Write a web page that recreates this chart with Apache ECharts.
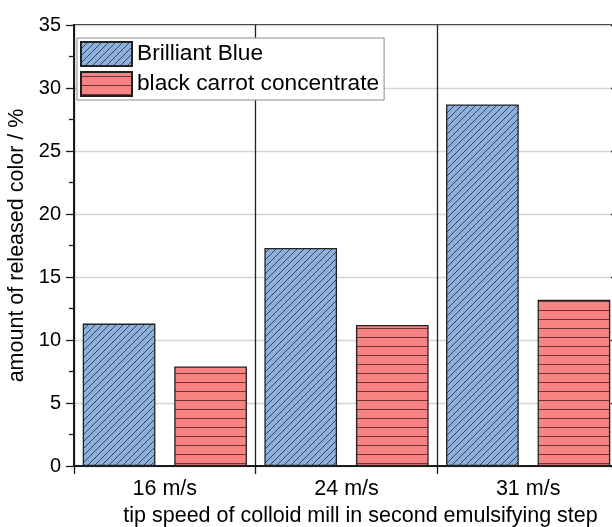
<!DOCTYPE html>
<html><head><meta charset="utf-8">
<script src="https://cdn.jsdelivr.net/npm/echarts@6/dist/echarts.min.js"></script>
<style>html,body{margin:0;padding:0;background:#fff}#c{width:612px;height:527px}</style>
</head><body><div id="c"></div>
<script>
const categories = ['16 m/s', '24 m/s', '31 m/s'];
const seriesNames = ['Brilliant Blue', 'black carrot concentrate'];
const brilliantBlue = [11.3, 17.3, 28.7];
const blackCarrot = [7.9, 11.2, 13.2];
const yMin = 0, yMax = 35, yStep = 5;
const xTitle = 'tip speed of colloid mill in second emulsifying step';
const yTitle = 'amount of released color / %';

function diagPattern(fill, line) {
  const s = 7, c = document.createElement('canvas');
  c.width = s; c.height = s;
  const g = c.getContext('2d');
  g.fillStyle = fill; g.fillRect(0, 0, s, s);
  g.strokeStyle = line; g.lineWidth = 0.9;
  g.beginPath();
  g.moveTo(0, s); g.lineTo(s, 0);
  g.moveTo(-1, 1); g.lineTo(1, -1);
  g.moveTo(s - 1, s + 1); g.lineTo(s + 1, s - 1);
  g.stroke();
  return { image: c, repeat: 'repeat' };
}
function horizPattern(fill, line) {
  const w = 8, h = 9, c = document.createElement('canvas');
  c.width = w; c.height = h;
  const g = c.getContext('2d');
  g.fillStyle = fill; g.fillRect(0, 0, w, h);
  g.fillStyle = line; g.fillRect(0, 4, w, 1);
  return { image: c, repeat: 'repeat' };
}

const FONT = '"Liberation Sans", Arial, sans-serif';
const chart = echarts.init(document.getElementById('c'), null, { renderer: 'canvas' });
chart.setOption({
  animation: false,
  backgroundColor: '#fff',
  textStyle: { fontFamily: FONT, color: '#000' },
  grid: { left: 74, top: 25, width: 545, height: 441, outerBoundsMode: 'none', containLabel: false,
          show: true, borderColor: '#1a1a1a', borderWidth: 2, backgroundColor: 'transparent' },
  legend: {
    left: 77, top: 38, orient: 'vertical', icon: 'rect',
    itemWidth: 51, itemHeight: 24, itemGap: 4,
    padding: [3, 5, 3, 3],
    borderColor: '#8a8a8a', borderWidth: 1, backgroundColor: '#fff',
    textStyle: { fontSize: 22.7, color: '#000', fontFamily: FONT },
    data: seriesNames
  },
  xAxis: {
    type: 'category', data: categories, boundaryGap: true,
    axisLine: { show: true, lineStyle: { color: '#1a1a1a', width: 2 } },
    axisTick: { show: true, interval: 0, length: 8, lineStyle: { color: '#1a1a1a', width: 1.3 } },
    splitLine: { show: true, interval: 0, lineStyle: { color: '#222', width: 1.3 } },
    axisLabel: { fontSize: 21.5, color: '#000', margin: 12, fontFamily: FONT },
    name: xTitle, nameLocation: 'middle', nameGap: 37,
    nameTextStyle: { fontSize: 21.5, color: '#000', fontFamily: FONT, padding: [0, 0, 0, 28] }
  },
  yAxis: [{
    type: 'value', min: yMin, max: yMax, interval: yStep, position: 'left',
    axisLine: { show: true, lineStyle: { color: '#1a1a1a', width: 2 } },
    axisTick: { show: true, length: 8, lineStyle: { color: '#1a1a1a', width: 1.3 } },
    minorTick: { show: true, splitNumber: 2, length: 5, lineStyle: { color: '#1a1a1a', width: 1.3 } },
    splitLine: { show: true, lineStyle: { color: '#d4d4d4', width: 1.3 } },
    axisLabel: { fontSize: 20, color: '#000', margin: 13, fontFamily: FONT },
    name: yTitle, nameLocation: 'middle', nameGap: 37, nameRotate: 90,
    nameTextStyle: { fontSize: 21.5, color: '#000', fontFamily: FONT }
  }, {
    type: 'value', min: yMin, max: yMax, interval: yStep, position: 'right',
    axisLine: { show: true, lineStyle: { color: '#1a1a1a', width: 2 } },
    axisTick: { show: true, inside: true, length: 8, lineStyle: { color: '#1a1a1a', width: 1.3 } },
    axisLabel: { show: false }, splitLine: { show: false }
  }],
  series: [{
    name: seriesNames[0], type: 'bar', data: brilliantBlue, yAxisIndex: 0,
    barWidth: '40%', barGap: '26%',
    itemStyle: { color: diagPattern('#8db1da', '#2b3b58'), borderColor: '#222', borderWidth: 1.3 }
  }, {
    name: seriesNames[1], type: 'bar', data: blackCarrot, yAxisIndex: 0,
    barWidth: '40%', barGap: '26%',
    itemStyle: { color: horizPattern('#f88383', '#6e3434'), borderColor: '#222', borderWidth: 1.3 }
  }]
});
</script></body></html>
